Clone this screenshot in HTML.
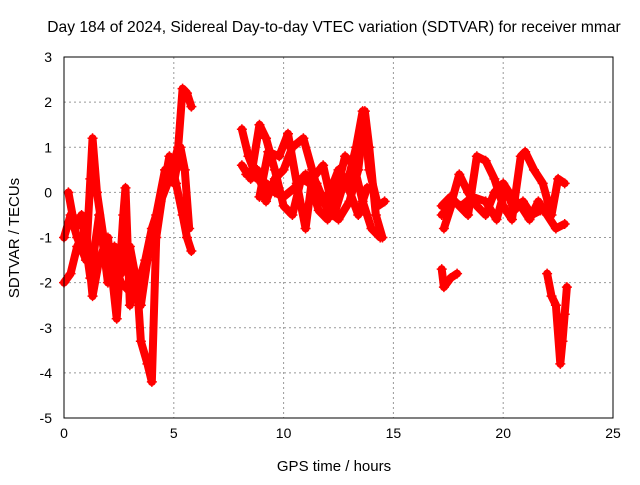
<!DOCTYPE html>
<html><head><meta charset="utf-8"><style>
body{margin:0;background:#fff}
svg text{font-family:"Liberation Sans",sans-serif;font-size:14px;fill:#000}
</style></head><body>
<svg id="chart" width="640" height="480" viewBox="0 0 640 480" xmlns="http://www.w3.org/2000/svg">
<rect width="640" height="480" fill="#fff"/>
<text x="334" y="32" text-anchor="middle" style="font-size:15.6px">Day 184 of 2024, Sidereal Day-to-day VTEC variation (SDTVAR) for receiver mmar</text>
<text x="334" y="471" text-anchor="middle" style="font-size:15px">GPS time / hours</text>
<text transform="translate(19,238) rotate(-90)" text-anchor="middle" style="font-size:15px">SDTVAR / TECUs</text>
<g id="grid"></g><g id="ticks"></g><g id="marks"></g>
<rect x="64" y="57" width="549" height="361" fill="none" stroke="#000" stroke-width="1"/>
</svg>
<script>
const xTicks=[0,5,10,15,20,25];
const yTicks=[3,2,1,0,-1,-2,-3,-4,-5];
const seriesA=[[0,-1],[0.3,-0.5],[0.6,-1],[1.0,-1.5],[1.2,0.3],[1.3,1.2],[1.5,0],[1.8,-1],[2.2,-1.5],[2.6,-2],[3.0,-2.2],[3.4,-2],[3.7,-1.5],[4.0,-0.8],[4.4,-0.2],[4.8,0.3],[5.2,1.0],[5.4,2.3],[5.6,2.2],[5.8,1.9]];
const seriesB=[[0,-2],[0.3,-1.8],[0.6,-1.2],[1.0,-0.8],[1.3,-2.3],[1.6,-1.5],[2.0,-1.0],[2.4,-2.8],[2.7,-0.5],[2.8,0.1],[3.0,-2.5],[3.3,-1.8],[3.5,-3.3],[3.8,-3.8],[4.0,-4.2],[4.2,-1],[4.5,0],[4.8,0.8],[5.1,0.2],[5.4,-0.5],[5.6,-1],[5.8,-1.3]];
const seriesC=[[0.2,0],[0.5,-0.8],[0.8,-0.5],[1.2,-1.9],[1.6,-0.5],[2.0,-2],[2.3,-1.2],[2.6,-1.8],[3.0,-1.2],[3.5,-2.5],[3.8,-1.5],[4.2,-0.5],[4.6,0.5],[5.0,0.2],[5.3,1.0],[5.5,0.5],[5.7,-0.8]];
const seriesD=[[8.1,1.4],[8.4,0.8],[8.8,0.3],[9.2,0.2],[9.6,0],[10,-0.1],[10.5,0.1],[11,0.4],[11.5,0.2],[12,-0.4],[12.5,-0.6],[13,-0.2],[13.4,0.5],[13.7,1.8],[13.9,1.0],[14.2,-0.5],[14.5,-1.0]];
const seriesE=[[8.1,0.6],[8.5,0.3],[8.9,1.5],[9.2,1.2],[9.6,0.5],[10,-0.3],[10.4,-0.5],[10.8,0.3],[11.2,0.2],[11.6,-0.4],[12,-0.6],[12.4,0],[12.8,0.8],[13.2,0.6],[13.6,-0.2],[14,-0.8],[14.4,-1.0]];
const seriesF=[[8.3,0.4],[8.8,0.5],[9.2,-0.2],[9.6,0.3],[10,0.5],[10.4,1.0],[10.9,1.2],[11.3,0.5],[11.7,-0.2],[12.1,0],[12.5,0.5],[12.9,0.2],[13.3,1.0],[13.6,1.8],[13.9,0.5],[14.3,-0.3],[14.6,-0.2]];
const seriesG=[[8.9,-0.1],[9.3,0.9],[9.8,0.8],[10.2,1.3],[10.6,0.2],[11.0,-0.8],[11.3,0.3],[11.8,0.6],[12.3,-0.5],[12.8,0.3],[13.4,-0.5],[13.8,0.1]];
const seriesH=[[17.2,-0.3],[17.6,-0.1],[18,-0.3],[18.4,-0.5],[18.8,0.8],[19.2,0.7],[19.6,0.3],[20,-0.3],[20.4,-0.6],[20.8,0.8],[21.0,0.9],[21.4,0.5],[21.8,0.2],[22.2,-0.5],[22.5,0.3],[22.8,0.2]];
const seriesI=[[17.2,-0.5],[17.6,-0.3],[18,0.4],[18.4,0],[18.8,-0.3],[19.2,-0.5],[19.6,0],[20,0.2],[20.4,-0.1],[20.8,-0.3],[21.2,-0.6],[21.6,-0.2],[22,-0.5],[22.4,-0.8],[22.8,-0.7]];
const seriesJ=[[17.2,-1.7],[17.3,-2.1],[17.6,-1.9],[17.9,-1.8]];
const seriesK=[[17.3,-0.8],[17.7,-0.2],[18.1,-0.3],[18.6,-0.1],[19.2,-0.2],[19.7,-0.6],[20.1,0.1],[20.5,-0.4],[20.9,-0.2],[21.3,-0.5],[21.7,-0.4]];
const seriesL=[[22.0,-1.8],[22.2,-2.3],[22.4,-2.5],[22.6,-3.8],[22.7,-3.3],[22.8,-2.7],[22.9,-2.1]];
const allSeries=[seriesA,seriesB,seriesC,seriesD,seriesE,seriesF,seriesG,seriesH,seriesI,seriesJ,seriesK,seriesL];
const X0=64,X1=613,Y0=418,Y1=57;
function sx(t){return X0+(t-0)/(25-0)*(X1-X0);}
function sy(v){return Y0-(v+5)/(3+5)*(Y0-Y1);}
const NS="http://www.w3.org/2000/svg";
const grid=document.getElementById('grid'),ticks=document.getElementById('ticks'),marks=document.getElementById('marks');
function mk(tag,attrs,parent){const e=document.createElementNS(NS,tag);for(const k in attrs)e.setAttribute(k,attrs[k]);parent.appendChild(e);return e;}
xTicks.forEach(t=>{const x=sx(t);
 if(t>0&&t<25){const g=mk('line',{x1:x,x2:x,y1:Y1,y2:Y0,stroke:'#999','stroke-dasharray':'2,3'},grid);
 
 }
 const l=mk('text',{x:x,y:Y0+20,'text-anchor':'middle'},ticks);l.textContent=t;
 
 
});
yTicks.forEach(v=>{const y=sy(v);
 if(v>-5&&v<3){const g=mk('line',{x1:X0,x2:X1,y1:y,y2:y,stroke:'#999','stroke-dasharray':'2,3'},grid);
 
 }
 const l=mk('text',{x:X0-12,y:y+5,'text-anchor':'end'},ticks);l.textContent=v;
 
 
});
allSeries.forEach((s,i)=>{
 const p=mk('polyline',{points:s.map(d=>sx(d[0])+','+sy(d[1])).join(' '),fill:'none',stroke:'#f00','stroke-width':8,'stroke-linejoin':'round','stroke-linecap':'round'},marks);
 
 
 s.forEach(d=>{const x=sx(d[0]),y=sy(d[1]);
  const m=mk('path',{d:`M${x-5},${y}H${x+5}M${x},${y-5}V${y+5}`,stroke:'#f00','stroke-width':1.5},marks);
  
  
 });
});
</script>
</body></html>
